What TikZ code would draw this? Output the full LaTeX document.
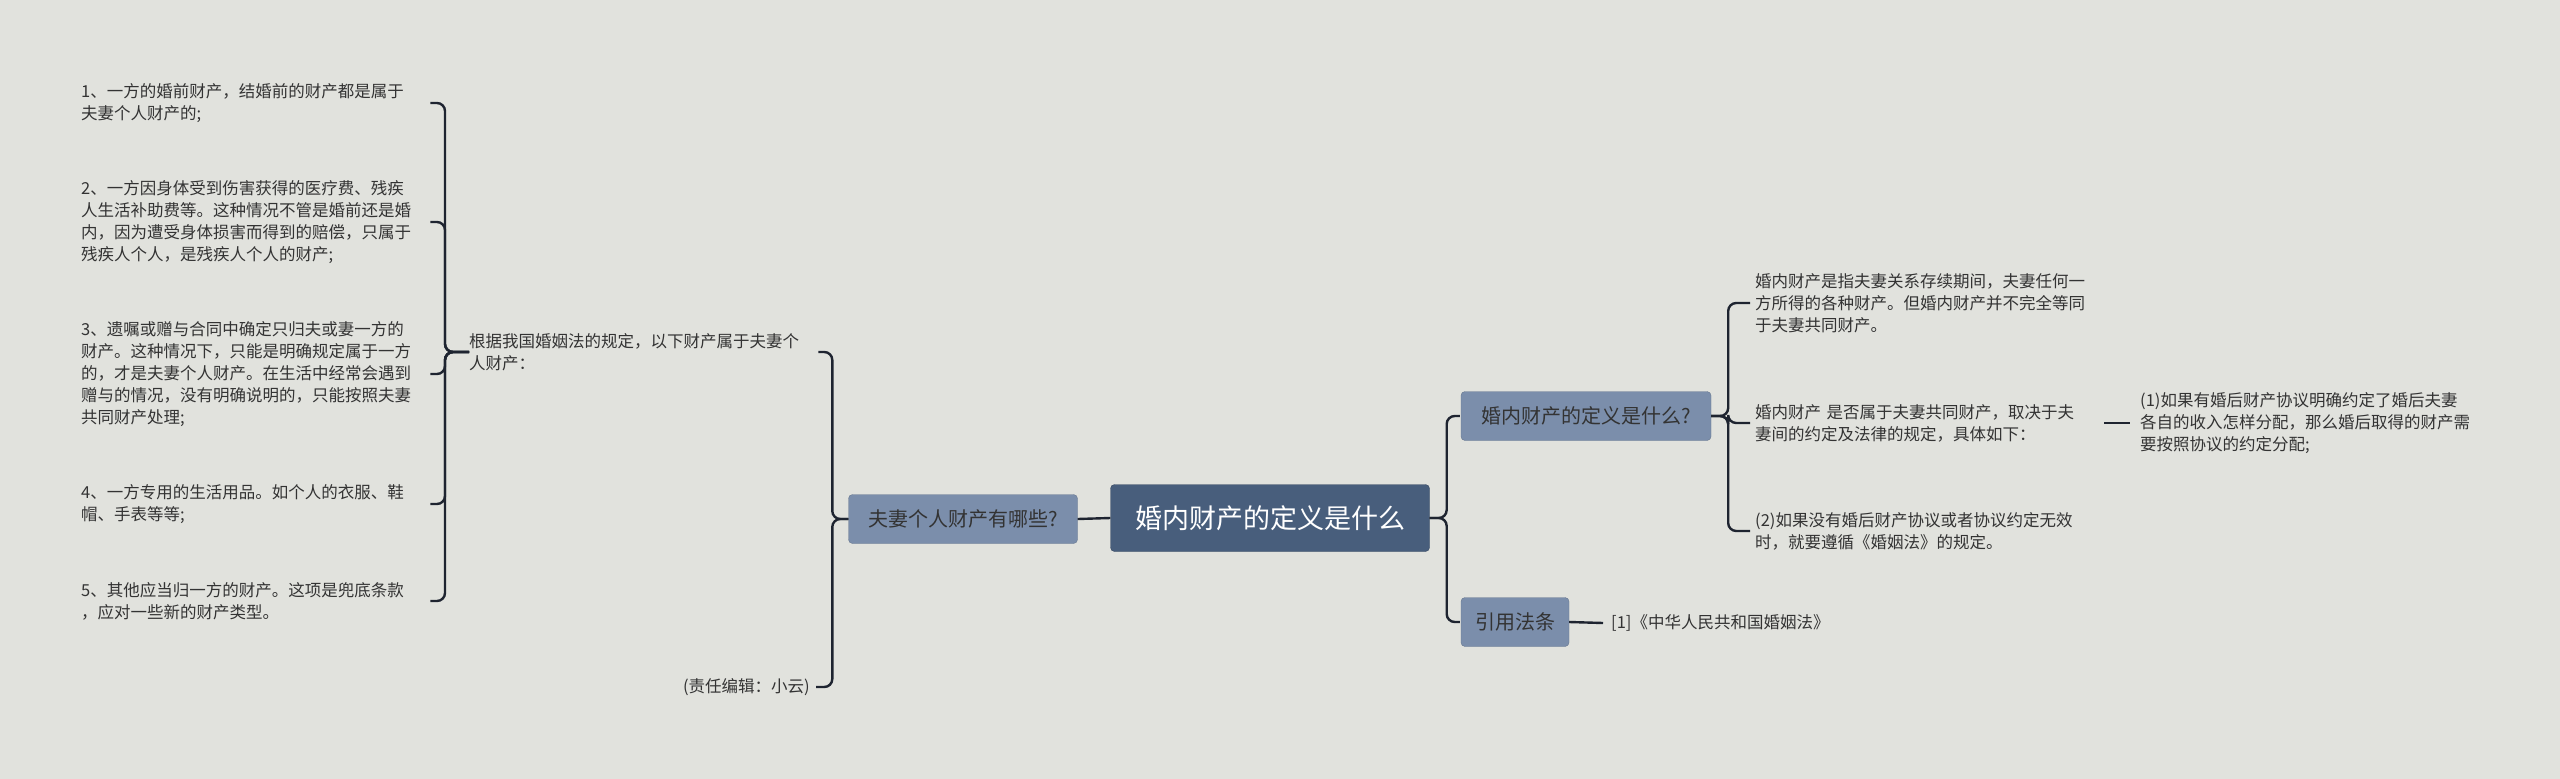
\documentclass[tikz,border=0pt]{standalone}
\usepackage{fontspec}
\setmainfont{Noto Sans CJK SC}
\usetikzlibrary{positioning}
\definecolor{bgc}{HTML}{E1E2DD}
\definecolor{rootc}{HTML}{485E7C}
\definecolor{subc}{HTML}{7B8EAB}
\definecolor{linec}{HTML}{1E2430}
\definecolor{txtc}{HTML}{333333}
\tikzset{
  every node/.style={inner sep=0pt},
  link/.style={draw=linec,line width=2.4pt,rounded corners=8pt},
  rootbox/.style={fill=rootc,draw=rootc!80!black,rounded corners=4pt,text=white,font=\fontsize{27}{30}\selectfont,minimum width=319pt,minimum height=67pt},
  subbox/.style={fill=subc,draw=subc!85!black,rounded corners=4pt,text=txtc,font=\fontsize{20}{24}\selectfont,minimum height=49pt},
  leaf/.style={text=txtc,font=\fontsize{16.5}{22}\selectfont,align=left,text width=345pt},
}
\begin{document}
\begin{tikzpicture}[x=1pt,y=-1pt]
\fill[bgc] (0,0) rectangle (2560,779);
\useasboundingbox (0,0) rectangle (2560,779);

\node[rootbox] (root) at (1270,518) {婚内财产的定义是什么};
\node[subbox,minimum width=229pt] (own) at (963,519) {夫妻个人财产有哪些?};
\node[subbox,minimum width=250pt] (def) at (1586,416) {婚内财产的定义是什么?};
\node[subbox,minimum width=108pt] (law) at (1515,622) {引用法条};

% left side
\node[leaf,anchor=west] (gen) at (469,352) {根据我国婚姻法的规定，以下财产属于夫妻个\\人财产：};
\node[leaf,text width=,anchor=east] (editor) at (810,687) {(责任编辑：小云)};
\node[leaf,anchor=west] (i1) at (81,103) {1、一方的婚前财产，结婚前的财产都是属于\\夫妻个人财产的;};
\node[leaf,anchor=west] (i2) at (81,222) {2、一方因身体受到伤害获得的医疗费、残疾\\人生活补助费等。这种情况不管是婚前还是婚\\内，因为遭受身体损害而得到的赔偿，只属于\\残疾人个人，是残疾人个人的财产;};
\node[leaf,anchor=west] (i3) at (81,374) {3、遗嘱或赠与合同中确定只归夫或妻一方的\\财产。这种情况下，只能是明确规定属于一方\\的，才是夫妻个人财产。在生活中经常会遇到\\赠与的情况，没有明确说明的，只能按照夫妻\\共同财产处理;};
\node[leaf,anchor=west] (i4) at (81,504) {4、一方专用的生活用品。如个人的衣服、鞋\\帽、手表等等;};
\node[leaf,anchor=west] (i5) at (81,601) {5、其他应当归一方的财产。这项是兜底条款\\，应对一些新的财产类型。};

% right side
\node[leaf,anchor=west] (d1) at (1755,303) {婚内财产是指夫妻关系存续期间，夫妻任何一\\方所得的各种财产。但婚内财产并不完全等同\\于夫妻共同财产。};
\node[leaf,anchor=west] (d2) at (1755,423) {婚内财产 是否属于夫妻共同财产，取决于夫\\妻间的约定及法律的规定，具体如下：};
\node[leaf,anchor=west] (d3) at (1755,531) {(2)如果没有婚后财产协议或者协议约定无效\\时，就要遵循《婚姻法》的规定。};
\node[leaf,anchor=west] (p1) at (2140,423) {(1)如果有婚后财产协议明确约定了婚后夫妻\\各自的收入怎样分配，那么婚后取得的财产需\\要按照协议的约定分配;};
\node[leaf,text width=,anchor=west] (ref) at (1611,623) {[1]《中华人民共和国婚姻法》};

\draw[link] (root.west) -- (own.east);
\foreach \c in {def,law}
  \draw[link] (root.east) -- ++(17,0) |- ([xshift=-1pt]\c.west);
\foreach \c in {d1,d2,d3}
  \draw[link] (def.east) -- ++(17,0) |- ([xshift=-5pt]\c.west);
\draw[link] ([xshift=4pt]d2.east) -- ([xshift=-10pt]p1.west);
\draw[link] (law.east) -- ([xshift=-8pt]ref.west);

\draw[link] (own.west) -- ++(-16,0) |- ([xshift=4pt]gen.east);
\draw[link] (own.west) -- ++(-16,0) |- ([xshift=6pt]editor.east);
\foreach \c in {i1,i2,i3,i4,i5}
  \draw[link] (gen.west) -- ++(-24,0) |- ([xshift=4pt]\c.east);
\end{tikzpicture}
\end{document}
